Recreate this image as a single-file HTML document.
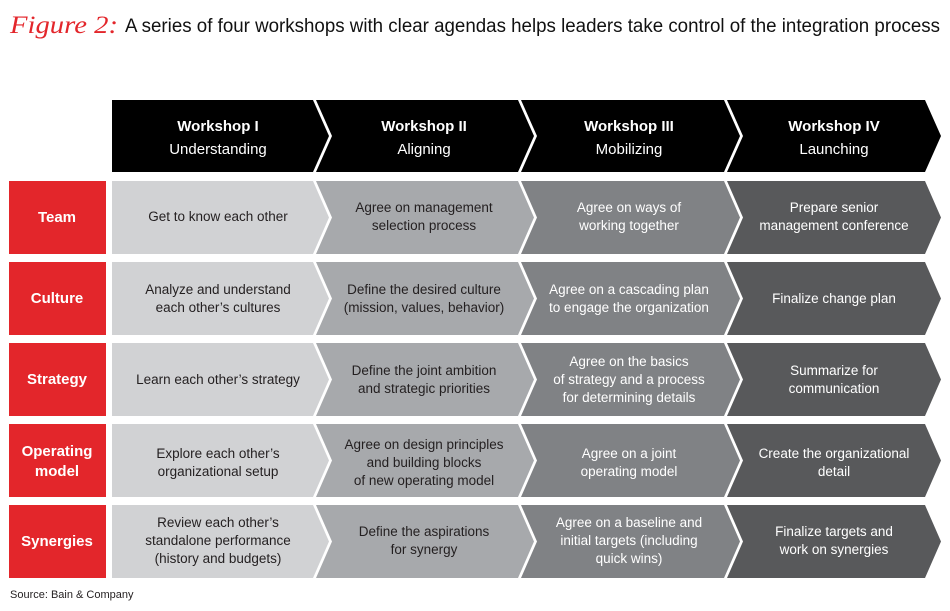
<!DOCTYPE html>
<html><head><meta charset="utf-8"><style>
html,body{margin:0;padding:0;background:#fff;}
svg{display:block;font-family:"Liberation Sans",sans-serif;}
</style></head><body>
<svg width="950" height="611" viewBox="0 0 950 611" xmlns="http://www.w3.org/2000/svg">
<text x="10" y="33" fill="#e3262b" font-family="Liberation Serif,serif" font-style="italic" font-size="25" textLength="108" lengthAdjust="spacingAndGlyphs">Figure 2:</text>
<text x="125" y="32" fill="#111" font-size="19" textLength="815" lengthAdjust="spacingAndGlyphs">A series of four workshops with clear agendas helps leaders take control of the integration process</text>

<!-- header -->
<g fill="#000">
<polygon points="112,100 313,100 329,136 313,172 112,172"/>
<polygon points="316,100 518,100 534,136 518,172 316,172 332,136"/>
<polygon points="521,100 724,100 740,136 724,172 521,172 537,136"/>
<polygon points="727,100 925,100 941,136 925,172 727,172 743,136"/>
</g>
<g fill="#fff" font-size="15" text-anchor="middle">
<text x="218" y="131" font-weight="bold">Workshop I</text><text x="218" y="154">Understanding</text>
<text x="424" y="131" font-weight="bold">Workshop II</text><text x="424" y="154">Aligning</text>
<text x="629" y="131" font-weight="bold">Workshop III</text><text x="629" y="154">Mobilizing</text>
<text x="834" y="131" font-weight="bold">Workshop IV</text><text x="834" y="154">Launching</text>
</g>

<!-- rows -->
<g id="rows">
<!-- row template per y0 -->
</g>
<g>
<!-- Row 1: 181-254 -->
<rect x="9" y="181" width="97" height="73" fill="#e3262b"/>
<polygon points="112,181 313,181 329,217.5 313,254 112,254" fill="#d1d2d4"/>
<polygon points="316,181 518,181 534,217.5 518,254 316,254 332,217.5" fill="#a7a9ac"/>
<polygon points="521,181 724,181 740,217.5 724,254 521,254 537,217.5" fill="#808285"/>
<polygon points="727,181 925,181 941,217.5 925,254 727,254 743,217.5" fill="#58595b"/>
<!-- Row 2 -->
<rect x="9" y="262" width="97" height="73" fill="#e3262b"/>
<polygon points="112,262 313,262 329,298.5 313,335 112,335" fill="#d1d2d4"/>
<polygon points="316,262 518,262 534,298.5 518,335 316,335 332,298.5" fill="#a7a9ac"/>
<polygon points="521,262 724,262 740,298.5 724,335 521,335 537,298.5" fill="#808285"/>
<polygon points="727,262 925,262 941,298.5 925,335 727,335 743,298.5" fill="#58595b"/>
<!-- Row 3 -->
<rect x="9" y="343" width="97" height="73" fill="#e3262b"/>
<polygon points="112,343 313,343 329,379.5 313,416 112,416" fill="#d1d2d4"/>
<polygon points="316,343 518,343 534,379.5 518,416 316,416 332,379.5" fill="#a7a9ac"/>
<polygon points="521,343 724,343 740,379.5 724,416 521,416 537,379.5" fill="#808285"/>
<polygon points="727,343 925,343 941,379.5 925,416 727,416 743,379.5" fill="#58595b"/>
<!-- Row 4 -->
<rect x="9" y="424" width="97" height="73" fill="#e3262b"/>
<polygon points="112,424 313,424 329,460.5 313,497 112,497" fill="#d1d2d4"/>
<polygon points="316,424 518,424 534,460.5 518,497 316,497 332,460.5" fill="#a7a9ac"/>
<polygon points="521,424 724,424 740,460.5 724,497 521,497 537,460.5" fill="#808285"/>
<polygon points="727,424 925,424 941,460.5 925,497 727,497 743,460.5" fill="#58595b"/>
<!-- Row 5 -->
<rect x="9" y="505" width="97" height="73" fill="#e3262b"/>
<polygon points="112,505 313,505 329,541.5 313,578 112,578" fill="#d1d2d4"/>
<polygon points="316,505 518,505 534,541.5 518,578 316,578 332,541.5" fill="#a7a9ac"/>
<polygon points="521,505 724,505 740,541.5 724,578 521,578 537,541.5" fill="#808285"/>
<polygon points="727,505 925,505 941,541.5 925,578 727,578 743,541.5" fill="#58595b"/>
</g>

<g fill="#fff" font-size="15" font-weight="bold" text-anchor="middle">
<text x="57" y="222">Team</text>
<text x="57" y="303">Culture</text>
<text x="57" y="384">Strategy</text>
<text x="57" y="456">Operating</text><text x="57" y="476">model</text>
<text x="57" y="546">Synergies</text>
</g>

<g font-size="13.5" text-anchor="middle" fill="#231f20">
<text x="218" y="221">Get to know each other</text>
<text x="218" y="294">Analyze and understand</text><text x="218" y="312">each other’s cultures</text>
<text x="218" y="384">Learn each other’s strategy</text>
<text x="218" y="458">Explore each other’s</text><text x="218" y="476">organizational setup</text>
<text x="218" y="527">Review each other’s</text><text x="218" y="545">standalone performance</text><text x="218" y="563">(history and budgets)</text>

<text x="424" y="212">Agree on management</text><text x="424" y="230">selection process</text>
<text x="424" y="294">Define the desired culture</text><text x="424" y="312">(mission, values, behavior)</text>
<text x="424" y="375">Define the joint ambition</text><text x="424" y="393">and strategic priorities</text>
<text x="424" y="449">Agree on design principles</text><text x="424" y="467">and building blocks</text><text x="424" y="485">of new operating model</text>
<text x="424" y="536">Define the aspirations</text><text x="424" y="554">for synergy</text>
</g>
<g font-size="13.5" text-anchor="middle" fill="#fff">
<text x="629" y="212">Agree on ways of</text><text x="629" y="230">working together</text>
<text x="629" y="294">Agree on a cascading plan</text><text x="629" y="312">to engage the organization</text>
<text x="629" y="366">Agree on the basics</text><text x="629" y="384">of strategy and a process</text><text x="629" y="402">for determining details</text>
<text x="629" y="458">Agree on a joint</text><text x="629" y="476">operating model</text>
<text x="629" y="527">Agree on a baseline and</text><text x="629" y="545">initial targets (including</text><text x="629" y="563">quick wins)</text>

<text x="834" y="212">Prepare senior</text><text x="834" y="230">management conference</text>
<text x="834" y="303">Finalize change plan</text>
<text x="834" y="375">Summarize for</text><text x="834" y="393">communication</text>
<text x="834" y="458">Create the organizational</text><text x="834" y="476">detail</text>
<text x="834" y="536">Finalize targets and</text><text x="834" y="554">work on synergies</text>
</g>

<text x="10" y="598" font-size="11" fill="#231f20">Source: Bain &amp; Company</text>
</svg>
</body></html>
